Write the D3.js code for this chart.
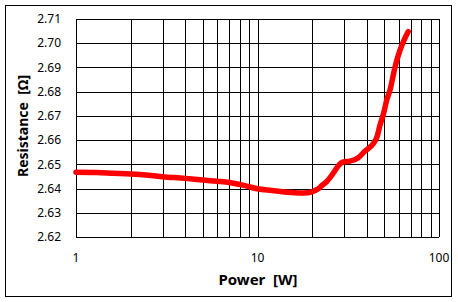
<!DOCTYPE html>
<html>
<head>
<meta charset="utf-8">
<script src="https://cdn.jsdelivr.net/npm/d3@7"></script>
<style>
  body { margin: 0; background: #fff; }
  svg { display: block; font-family: "Noto Sans", "DejaVu Sans", sans-serif; }
</style>
</head>
<body>
<div id="chart"></div>
<script>
// data
const power = [1, 1.3, 1.6, 2, 2.5, 3, 4, 5, 6, 7, 8.5, 10, 12, 14.5, 17, 19, 20.2, 21.5, 22.6, 24, 25.1, 26.5, 27.8, 29.7, 32.3, 35.9, 39.1, 43.5, 45.6, 47.3, 49.5, 51.5, 53.7, 57.3, 61, 64.2, 67.7];
const resistance = [2.6467, 2.6466, 2.6463, 2.646, 2.6455, 2.6449, 2.6442, 2.6435, 2.643, 2.6425, 2.6412, 2.6399, 2.6392, 2.6385, 2.6382, 2.6383, 2.6388, 2.6398, 2.6412, 2.6428, 2.6445, 2.647, 2.6493, 2.651, 2.6513, 2.6527, 2.6555, 2.6586, 2.6614, 2.6662, 2.671, 2.6765, 2.6807, 2.6903, 2.6972, 2.7013, 2.7048];
const yTicks = [2.62, 2.63, 2.64, 2.65, 2.66, 2.67, 2.68, 2.69, 2.70, 2.71];
const xLabels = [1, 10, 100];
const xGrid = [1, 2, 3, 4, 5, 6, 7, 8, 9, 10, 20, 30, 40, 50, 60, 70, 80, 90, 100];

const W = 458, H = 302;
const plot = { left: 76, top: 19, right: 439, bottom: 237 };

const svg = d3.select("#chart").append("svg")
  .attr("width", W)
  .attr("height", H);

// outer chart border
svg.append("rect")
  .attr("x", 5.5).attr("y", 5.5)
  .attr("width", 446).attr("height", 291)
  .attr("fill", "#fff")
  .attr("stroke", "#000")
  .attr("stroke-width", 1);

const x = d3.scaleLog()
  .domain([1, 100])
  .range([plot.left, plot.right]);

const y = d3.scaleLinear()
  .domain([2.62, 2.71])
  .range([plot.bottom, plot.top]);

// grid
svg.append("g")
  .selectAll("line")
  .data(xGrid)
  .join("line")
    .attr("x1", d => Math.round(x(d)) + 0.5)
    .attr("x2", d => Math.round(x(d)) + 0.5)
    .attr("y1", plot.top)
    .attr("y2", plot.bottom)
    .attr("stroke", "#000");

svg.append("g")
  .selectAll("line")
  .data(yTicks)
  .join("line")
    .attr("x1", plot.left)
    .attr("x2", plot.right)
    .attr("y1", d => Math.round(y(d)) + 0.5)
    .attr("y2", d => Math.round(y(d)) + 0.5)
    .attr("stroke", "#000");

// tick labels
svg.append("g")
  .selectAll("text")
  .data(yTicks)
  .join("text")
    .attr("x", 61)
    .attr("y", d => y(d))
    .attr("dy", "0.35em")
    .attr("text-anchor", "end")
    .attr("font-size", 12)
    .attr("fill", "#000")
    .text(d => d.toFixed(2));

svg.append("g")
  .selectAll("text")
  .data(xLabels)
  .join("text")
    .attr("x", d => x(d))
    .attr("y", 258)
    .attr("dy", "0.35em")
    .attr("text-anchor", "middle")
    .attr("font-size", 12)
    .attr("fill", "#000")
    .text(d => d);

// axis titles
svg.append("text")
  .attr("x", 258)
  .attr("y", 280)
  .attr("dy", "0.35em")
  .attr("text-anchor", "middle")
  .attr("font-size", 15)
  .attr("font-weight", "bold")
  .attr("xml:space", "preserve")
  .style("white-space", "pre")
  .text("Power  [W]");

svg.append("text")
  .attr("transform", "translate(23,126) rotate(-90)")
  .attr("dy", "0.35em")
  .attr("text-anchor", "middle")
  .attr("font-size", 14)
  .attr("font-weight", "bold")
  .style("white-space", "pre")
  .text("Resistance  [Ω]");

// data line
const line = d3.line()
  .x((d, i) => x(power[i]))
  .y(d => y(d))
  .curve(d3.curveMonotoneX);

svg.append("path")
  .datum(resistance)
  .attr("d", line)
  .attr("fill", "none")
  .attr("stroke", "#ff0000")
  .attr("stroke-width", 5.5)
  .attr("stroke-linecap", "round")
  .attr("stroke-linejoin", "round");
</script>
</body>
</html>
